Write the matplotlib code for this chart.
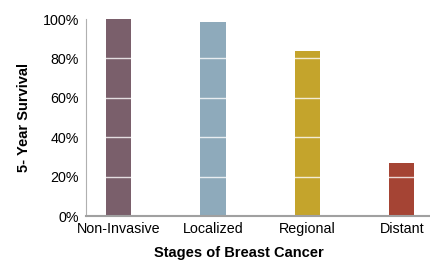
import numpy as np
import matplotlib
matplotlib.use("Agg")
import matplotlib.pyplot as plt
from matplotlib.ticker import PercentFormatter

stages = ["Non-Invasive", "Localized", "Regional", "Distant"]
survival = [100, 98.5, 84, 27]
colors = ["#7a5f6b", "#8eaabb", "#c4a42c", "#a54434"]

plt.rcParams["font.family"] = ["Liberation Sans", "DejaVu Sans"]

fig = plt.figure(figsize=(4.31, 2.61), dpi=100)
ax = fig.add_axes([0.1995, 0.1724, 0.8005, 0.7546])

x = np.arange(len(stages))
ax.bar(x, survival, width=0.27, color=colors, zorder=1)

ax.set_ylim(0, 100)
ax.set_xlim(-0.345, 3.31)
ax.set_yticks([0, 20, 40, 60, 80, 100])
ax.yaxis.set_major_formatter(PercentFormatter(decimals=0))
ax.set_xticks(x)
ax.set_xticklabels(stages)
ax.tick_params(length=0, labelsize=10.3, colors="black", pad=4)
ax.tick_params(axis="y", pad=5)

for y in [20, 40, 60, 80]:
    ax.axhline(y, color="white", lw=1, alpha=0.8, zorder=2)

for side in ["top", "right"]:
    ax.spines[side].set_visible(False)
ax.spines["left"].set_color("#b0b0b0")
ax.spines["left"].set_linewidth(0.8)
ax.spines["bottom"].set_color("#a0a0a0")
ax.spines["bottom"].set_linewidth(1.5)
ax.spines["bottom"].set_zorder(3)

ax.set_ylabel("5- Year Survival", fontsize=10.5, fontweight="bold")
ax.set_xlabel("Stages of Breast Cancer", fontsize=10.5, fontweight="bold")
ax.yaxis.set_label_coords(-0.159, 0.5)
ax.xaxis.set_label_coords(0.443, -0.152)

fig.savefig("out.png", dpi=100)
